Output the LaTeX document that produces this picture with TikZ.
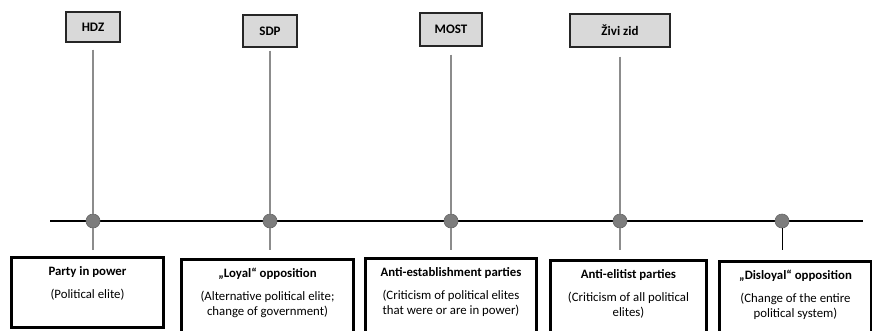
\documentclass[tikz,border=0pt]{standalone}
\usepackage{fontspec}
\setmainfont{Carlito}
\usetikzlibrary{positioning}
\definecolor{partyfill}{RGB}{217,217,217}
\definecolor{dotfill}{RGB}{125,125,125}
\tikzstyle{partynode}=[rectangle, draw=black!85, fill=partyfill, line width=1.2pt, font=\fontsize{13}{15}\selectfont\bfseries]
\tikzstyle{typenode}=[rectangle, draw=black, fill=white, line width=3pt, inner sep=0pt, anchor=north west, font=\fontsize{12.8}{15}\selectfont]
\tikzstyle{dotnode}=[circle, draw=black!60, fill=dotfill, line width=0.6pt, minimum size=14pt, inner sep=0pt]
\tikzstyle{stem}=[draw=black!45, line width=1.2pt]
\newcommand{\typetext}[4]{\parbox[t][#2][t]{#1}{\centering\rule{0pt}{18pt}\textbf{#3}\\[8pt]#4}}

\begin{document}
\begin{tikzpicture}[x=1pt,y=-1pt]
\useasboundingbox (0,0) rectangle (872,330);
%Axis
\coordinate (axl) at (50,221);
\coordinate (axr) at (863,221);
\draw[line width=2.6pt] (axl) -- (axr);
%Nodes
\node[dotnode] (d1) at (93,221) {};
\node[dotnode] (d2) at (270,221) {};
\node[dotnode] (d3) at (451,221) {};
\node[dotnode] (d4) at (620,221) {};
\node[dotnode] (d5) at (782,221) {};
\node[partynode, minimum width=54pt, minimum height=30pt] (hdz) at (93,27) {HDZ};
\node[partynode, minimum width=54pt, minimum height=32pt] (sdp) at (270,31) {SDP};
\node[partynode, minimum width=62pt, minimum height=33pt] (most) at (451,29.5) {MOST};
\node[partynode, minimum width=100pt, minimum height=33pt] (zivi) at (620,30.5) {Živi zid};
\node[typenode] (b1) at (10,256) {\typetext{152pt}{70pt}{Party in power}{(Political elite)}};
\node[typenode] (b2) at (180,258) {\typetext{172pt}{80pt}{„Loyal“ opposition}{(Alternative political elite;\\change of government)}};
\node[typenode] (b3) at (364,257) {\typetext{171pt}{80pt}{Anti-establishment parties}{(Criticism of political elites\\that were or are in power)}};
\node[typenode] (b4) at (549,259) {\typetext{156pt}{80pt}{Anti-elitist parties}{(Criticism of all political\\elites)}};
\node[typenode] (b5) at (718,260) {\typetext{152pt}{80pt}{„Disloyal“ opposition}{(Change of the entire\\political system)}};
%Lines
\draw[stem, shorten <=7pt] (hdz) -- (d1);
\draw[stem, shorten <=3pt] (sdp) -- (d2);
\draw[stem, shorten <=8pt] (most) -- (d3);
\draw[stem, shorten <=9pt] (zivi) -- (d4);
\draw[stem, shorten >=6pt] (d1) -- (d1 |- b1.north);
\draw[stem, shorten >=8pt] (d2) -- (d2 |- b2.north);
\draw[stem, shorten >=7pt] (d3) -- (d3 |- b3.north);
\draw[stem, shorten >=9pt] (d4) -- (d4 |- b4.north);
\draw[line width=0.9pt, shorten >=10pt] (d5) -- (d5 |- b5.north);
\end{tikzpicture}
\end{document}
